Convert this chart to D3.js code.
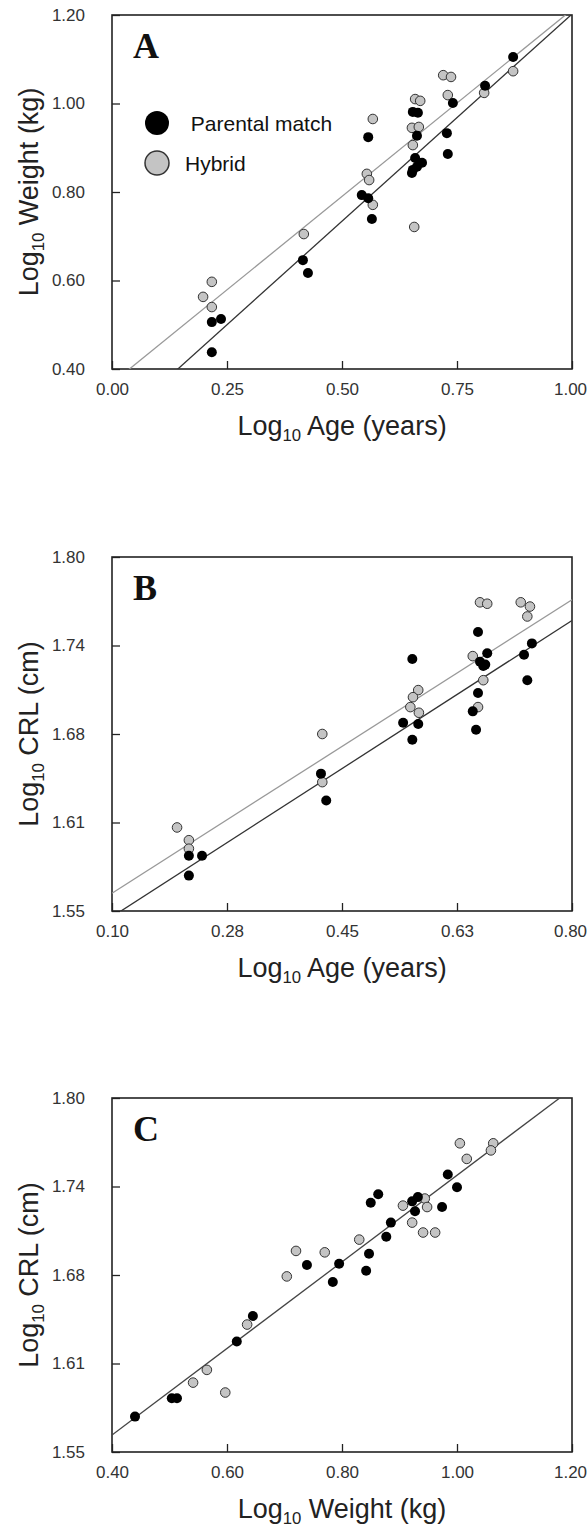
<!DOCTYPE html>
<html>
<head>
<meta charset="UTF-8">
<title></title>
<style>
body{margin:0;background:#fff;}
</style>
</head>
<body>
<script src="https://d3js.org/d3.v7.min.js"></script>
<script>
// panel A : log10 age vs log10 weight
var aParental = [[0.217,0.438],[0.217,0.506],[0.237,0.513],[0.415,0.646],[0.426,0.617],[0.543,0.793],[0.557,0.786],[0.565,0.739],[0.557,0.924],[0.654,0.981],[0.665,0.979],[0.663,0.927],[0.659,0.877],[0.674,0.866],[0.663,0.857],[0.654,0.850],[0.652,0.843],[0.728,0.933],[0.730,0.886],[0.741,1.001],[0.811,1.040],[0.872,1.105]];
var aHybrid = [[0.198,0.563],[0.217,0.597],[0.217,0.540],[0.417,0.705],[0.554,0.841],[0.559,0.827],[0.567,0.771],[0.567,0.965],[0.657,0.721],[0.652,0.945],[0.667,0.947],[0.654,0.906],[0.659,1.010],[0.670,1.006],[0.720,1.064],[0.737,1.060],[0.730,1.019],[0.809,1.024],[0.872,1.073]];
var aFitParental = [0.266, 0.936]; // intercept, slope
var aFitHybrid = [0.368, 0.844];
var aXTicks = [0, 0.25, 0.5, 0.75, 1];
var aXLabels = ["0.00","0.25","0.50","0.75","1.00"];
var aYTicks = [0.4, 0.6, 0.8, 1.0, 1.2];
var aYLabels = ["0.40","0.60","0.80","1.00","1.20"];

// panel B : log10 age vs log10 CRL
var bParental = [[0.217,1.575],[0.217,1.589],[0.237,1.589],[0.418,1.647],[0.426,1.628],[0.543,1.683],[0.566,1.682],[0.557,1.671],[0.557,1.728],[0.657,1.747],[0.671,1.732],[0.660,1.726],[0.665,1.723],[0.668,1.724],[0.657,1.704],[0.649,1.691],[0.654,1.678],[0.727,1.731],[0.739,1.739],[0.732,1.713]];
var bHybrid = [[0.199,1.609],[0.217,1.600],[0.217,1.594],[0.420,1.675],[0.420,1.641],[0.566,1.706],[0.558,1.701],[0.554,1.694],[0.567,1.690],[0.649,1.730],[0.665,1.713],[0.657,1.694],[0.660,1.768],[0.671,1.767],[0.722,1.768],[0.736,1.765],[0.732,1.758]];
var bFitParental = [1.516, 0.299];
var bFitHybrid = [1.533, 0.296];
var bXTicks = [0.1, 0.275, 0.45, 0.625, 0.8];
var bXLabels = ["0.10","0.28","0.45","0.63","0.80"];
var bYTicks = [1.55, 1.6125, 1.675, 1.7375, 1.8];
var bYLabels = ["1.55","1.61","1.68","1.74","1.80"];

// panel C : log10 weight vs log10 CRL
var cParental = [[0.984,1.746],[1.000,1.737],[0.863,1.732],[0.850,1.726],[0.922,1.727],[0.932,1.730],[0.927,1.720],[0.974,1.723],[0.885,1.712],[0.877,1.702],[0.847,1.690],[0.739,1.682],[0.795,1.683],[0.842,1.678],[0.784,1.670],[0.645,1.646],[0.617,1.628],[0.504,1.588],[0.513,1.588],[0.440,1.575]];
var cHybrid = [[1.005,1.768],[1.063,1.768],[1.059,1.763],[1.017,1.757],[0.906,1.724],[0.944,1.729],[0.948,1.723],[0.922,1.712],[0.941,1.705],[0.962,1.705],[0.830,1.700],[0.720,1.692],[0.770,1.691],[0.704,1.674],[0.635,1.640],[0.565,1.608],[0.541,1.599],[0.597,1.592]];
var cFit = [1.4397, 0.3057];
var cXTicks = [0.4, 0.6, 0.8, 1.0, 1.2];
var cXLabels = ["0.40","0.60","0.80","1.00","1.20"];
var cYTicks = bYTicks;
var cYLabels = bYLabels;

var width = 587, height = 1529;
var left = 112, right = 572, plotH = 354;
var tickFont = 17, titleFont = 27;
var sans = "'Liberation Sans', Arial, sans-serif";

var svg = d3.select("body").append("svg")
	.attr("width", width)
	.attr("height", height);

// "Log10 ..." with subscript
function logTitle(t, rest){
	t.append("tspan").text("Log");
	t.append("tspan").attr("font-size", titleFont*0.62).attr("dy", 6).text("10");
	t.append("tspan").attr("dy", -6).text(" " + rest);
}

function panel(id, top, xDom, yDom, xT, xL, yT, yL, xTitle, yTitle, letter, hybrid, parental, fits){
	var x = d3.scaleLinear().domain(xDom).range([left, right]);
	var y = d3.scaleLinear().domain(yDom).range([top + plotH, top]);
	var g = svg.append("g");

	g.append("clipPath").attr("id", "clip" + id)
		.append("rect").attr("x", left).attr("y", top).attr("width", right-left).attr("height", plotH);

	var xa = g.append("g").attr("transform", "translate(0," + (top+plotH) + ")")
		.call(d3.axisBottom(x).tickValues(xT).tickFormat(function(d,i){ return xL[i]; })
			.tickSizeInner(-8).tickSizeOuter(0).tickPadding(14));
	var ya = g.append("g").attr("transform", "translate(" + left + ",0)")
		.call(d3.axisLeft(y).tickValues(yT).tickFormat(function(d,i){ return yL[i]; })
			.tickSizeInner(-8).tickSizeOuter(0).tickPadding(27));
	[xa, ya].forEach(function(a){
		a.select(".domain").remove();
		a.selectAll("line").attr("stroke", "#222").attr("stroke-width", 1.3);
		a.selectAll("text").style("font-size", tickFont + "px").style("font-family", sans)
			.attr("fill", "#333");
	});
	// keep the last x label inside the page
	xa.selectAll(".tick text").filter(function(d,i){ return i === xT.length - 1; }).attr("dx", -2);

	g.append("rect").attr("x", left).attr("y", top).attr("width", right-left).attr("height", plotH)
		.attr("fill", "none").attr("stroke", "#222").attr("stroke-width", 1.6);

	// regression lines
	fits.forEach(function(f){
		var xs = xDom;
		g.append("line").attr("clip-path", "url(#clip" + id + ")")
			.attr("x1", x(xs[0])).attr("y1", y(f.fit[0] + f.fit[1]*xs[0]))
			.attr("x2", x(xs[1])).attr("y2", y(f.fit[0] + f.fit[1]*xs[1]))
			.attr("stroke", f.color).attr("stroke-width", 1.3);
	});

	g.selectAll(".hyb").data(hybrid).enter().append("circle")
		.attr("cx", function(d){ return x(d[0]); })
		.attr("cy", function(d){ return y(d[1]); })
		.attr("r", 4.8)
		.attr("fill", "#c4c4c4").attr("stroke", "#333").attr("stroke-width", 1);
	g.selectAll(".par").data(parental).enter().append("circle")
		.attr("cx", function(d){ return x(d[0]); })
		.attr("cy", function(d){ return y(d[1]); })
		.attr("r", 5)
		.attr("fill", "#000");

	g.append("text").attr("x", 133).attr("y", top + 43)
		.style("font-family", "'Liberation Serif', 'Times New Roman', serif")
		.style("font-weight", "bold").style("font-size", "36px").attr("fill", "#111")
		.text(letter);

	var xt = g.append("text").attr("x", (left+right)/2).attr("y", top + plotH + 66)
		.attr("text-anchor", "middle").style("font-family", sans).style("font-size", titleFont + "px").attr("fill", "#222");
	logTitle(xt, xTitle);
	var yt = g.append("text")
		.attr("transform", "translate(38," + (top + plotH/2) + ") rotate(-90)")
		.attr("text-anchor", "middle").style("font-family", sans).style("font-size", titleFont + "px").attr("fill", "#222");
	logTitle(yt, yTitle);
	return g;
}

var gA = panel("A", 15, [0,1], [0.4,1.2], aXTicks, aXLabels, aYTicks, aYLabels,
	"Age (years)", "Weight (kg)", "A", aHybrid, aParental,
	[{fit: aFitHybrid, color: "#999"}, {fit: aFitParental, color: "#333"}]);

panel("B", 557, [0.1,0.8], [1.55,1.8], bXTicks, bXLabels, bYTicks, bYLabels,
	"Age (years)", "CRL (cm)", "B", bHybrid, bParental,
	[{fit: bFitHybrid, color: "#999"}, {fit: bFitParental, color: "#333"}]);

panel("C", 1098, [0.4,1.2], [1.55,1.8], cXTicks, cXLabels, cYTicks, cYLabels,
	"Weight (kg)", "CRL (cm)", "C", cHybrid, cParental,
	[{fit: cFit, color: "#444"}]);

// legend (panel A only)
var legend = [{name: " Parental match", fill: "#000", stroke: "none"}, {name: "Hybrid", fill: "#c4c4c4", stroke: "#333"}];
var lg = gA.selectAll(".leg").data(legend).enter().append("g")
	.attr("transform", function(d,i){ return "translate(157," + (123 + i*40) + ")"; });
lg.append("circle").attr("r", 12)
	.attr("fill", function(d){ return d.fill; })
	.attr("stroke", function(d){ return d.stroke; }).attr("stroke-width", 1.5);
lg.append("text").attr("x", 28).attr("y", 8)
	.style("font-family", sans).style("font-size", "21px").attr("fill", "#111")
	.style("white-space", "pre")
	.text(function(d){ return d.name; });
</script>
</body>
</html>
